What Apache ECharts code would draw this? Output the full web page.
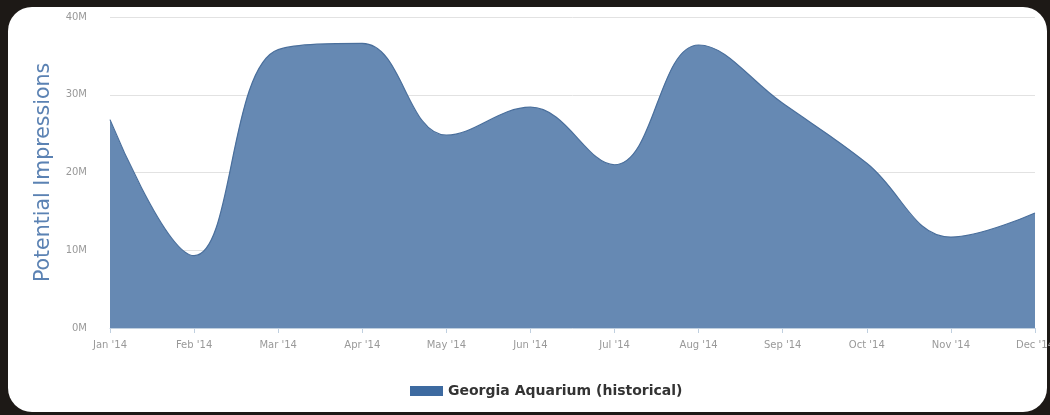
<!DOCTYPE html>
<html>
<head>
<meta charset="utf-8">
<script src="https://cdn.jsdelivr.net/npm/echarts@6/dist/echarts.min.js"></script>
<style>
html,body{margin:0;padding:0;background:#1d1916;}
#c{width:1050px;height:415px;}
</style>
</head>
<body>
<div id="c"></div>
<script>
var categories = ["Jan '14","Feb '14","Mar '14","Apr '14","May '14","Jun '14","Jul '14","Aug '14","Sep '14","Oct '14","Nov '14","Dec '14"];
var impressions = [26.8, 9.3, 35.8, 36.6, 24.8, 28.4, 21.0, 36.4, 28.9, 21.2, 11.7, 14.8];
var yTicks = [0, 10, 20, 30, 40];
var seriesName = "Georgia Aquarium (historical)";
var yTitle = "Potential Impressions";

var chart = echarts.init(document.getElementById('c'), null, {renderer:'canvas'});
chart.setOption({
  animation: false,
  backgroundColor: 'transparent',
  graphic: [{
    type: 'rect', z: -10, silent: true,
    shape: {x: 8, y: 7, width: 1039, height: 405, r: 24},
    style: {fill: '#ffffff'}
  }],
  grid: {left: 110, right: 15, top: 17, bottom: 87, containLabel: false, outerBoundsMode: 'none'},
  legend: {
    top: 379, left: 405,
    itemWidth: 33, itemHeight: 10, itemGap: 6,
    icon: 'rect',
    textStyle: {color: '#333', fontWeight: 'bold', fontSize: 14, fontFamily: 'DejaVu Sans'},
    data: [{name: seriesName, itemStyle: {color: '#3d6aa0'}}]
  },
  xAxis: {
    type: 'category', boundaryGap: false, data: categories,
    axisLine: {lineStyle: {color: '#c0d0e0'}},
    axisTick: {show: true, alignWithLabel: true, length: 5, lineStyle: {color: '#c0d0e0'}},
    axisLabel: {color: '#999', fontSize: 10, margin: 12, fontFamily: 'DejaVu Sans'}
  },
  yAxis: {
    type: 'value', min: 0, max: 40, interval: 10,
    name: yTitle, nameLocation: 'middle', nameGap: 56,
    nameTextStyle: {color: '#5b82b3', fontSize: 20.5, fontFamily: 'DejaVu Sans'},
    axisLine: {show: false}, axisTick: {show: false},
    axisLabel: {color: '#999', fontSize: 10, margin: 23, fontFamily: 'DejaVu Sans',
      formatter: function(v){ return yTicks.indexOf(v) >= 0 ? v + 'M' : ''; }},
    splitLine: {lineStyle: {color: '#e2e2e2', width: 1}}
  },
  series: [{
    name: seriesName, type: 'line', data: impressions,
    smooth: 0.4, symbol: 'none',
    lineStyle: {color: '#4a6f9c', width: 1.2},
    itemStyle: {color: '#3d6aa0'},
    areaStyle: {color: '#6689b3', opacity: 1}
  }]
});
</script>
</body>
</html>
